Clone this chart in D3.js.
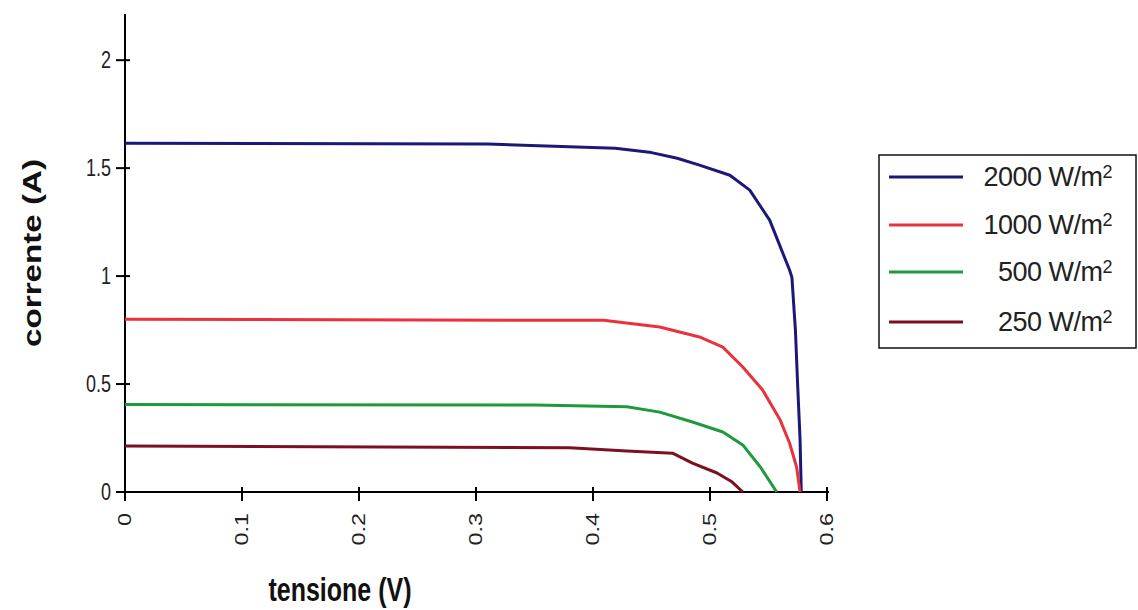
<!DOCTYPE html>
<html>
<head>
<meta charset="utf-8">
<script src="https://cdn.jsdelivr.net/npm/d3@7"></script>
<style>
  body { margin: 0; background: #fff; }
  svg text { font-family: "Liberation Sans", Arial, sans-serif; fill: #111; }
</style>
</head>
<body>
<div id="app"></div>
<script>
// I-V curves for different irradiance levels
const labels = ['2000', '1000', '500', '250'];
const colors = ['#1c1878', '#e8323c', '#1e9a3c', '#7c1020'];

const v2000 = [0, 0.31, 0.419, 0.450, 0.472, 0.491, 0.517, 0.534, 0.551, 0.568, 0.570, 0.573, 0.575, 0.577, 0.578];
const i2000 = [1.615, 1.612, 1.592, 1.572, 1.546, 1.514, 1.467, 1.398, 1.259, 1.028, 0.995, 0.75, 0.486, 0.24, 0];

const v1000 = [0, 0.409, 0.457, 0.491, 0.511, 0.528, 0.545, 0.560, 0.568, 0.574, 0.577];
const i1000 = [0.80, 0.795, 0.764, 0.718, 0.671, 0.579, 0.472, 0.333, 0.227, 0.116, 0];

const v500 = [0, 0.35, 0.429, 0.457, 0.485, 0.511, 0.528, 0.543, 0.557];
const i500 = [0.405, 0.403, 0.395, 0.370, 0.324, 0.278, 0.218, 0.116, 0];

const v250 = [0, 0.38, 0.429, 0.468, 0.485, 0.506, 0.519, 0.528];
const i250 = [0.213, 0.205, 0.190, 0.180, 0.134, 0.088, 0.046, 0];

const xTicks = [0, 0.1, 0.2, 0.3, 0.4, 0.5, 0.6];
const yTicks = [0, 0.5, 1, 1.5, 2];

const series = [
  { v: v2000, i: i2000 },
  { v: v1000, i: i1000 },
  { v: v500, i: i500 },
  { v: v250, i: i250 }
];

const width = 1138;
const height = 610;

const x = d3.scaleLinear().domain([0, 0.6]).range([125, 827]);
const y = d3.scaleLinear().domain([0, 2.2]).range([492, 17]);

const svg = d3.select('#app').append('svg')
  .attr('width', width)
  .attr('height', height);

// axes
svg.append('line')
  .attr('x1', x(0)).attr('x2', x(0.6) + 2)
  .attr('y1', y(0)).attr('y2', y(0))
  .attr('stroke', '#000').attr('stroke-width', 2);
svg.append('line')
  .attr('x1', x(0)).attr('x2', x(0))
  .attr('y1', y(0) + 2).attr('y2', y(2.2) - 3)
  .attr('stroke', '#000').attr('stroke-width', 2);

svg.append('g').selectAll('line')
  .data(xTicks)
  .enter().append('line')
  .attr('x1', d => x(d)).attr('x2', d => x(d))
  .attr('y1', y(0) - 5).attr('y2', y(0) + 9)
  .attr('stroke', '#000').attr('stroke-width', 2);

svg.append('g').selectAll('line')
  .data(yTicks)
  .enter().append('line')
  .attr('x1', x(0) - 9).attr('x2', x(0) + 5)
  .attr('y1', d => y(d)).attr('y2', d => y(d))
  .attr('stroke', '#000').attr('stroke-width', 2);

// tick labels
svg.append('g').selectAll('text')
  .data(yTicks)
  .enter().append('text')
  .attr('transform', d => `translate(111,${y(d) + 8}) scale(1,1.3)`)
  .attr('text-anchor', 'end')
  .style('font-size', '18px')
  .style('fill', '#222')
  .text(d => d);

svg.append('g').selectAll('text')
  .data(xTicks)
  .enter().append('text')
  .attr('transform', d => `translate(${x(d)},513) scale(1,1.3) rotate(-90)`)
  .attr('text-anchor', 'end')
  .attr('dy', '0.36em')
  .style('font-size', '18px')
  .style('fill', '#222')
  .text(d => d);

// axis titles
svg.append('text')
  .attr('transform', 'translate(340,601) scale(1,1.3)')
  .attr('text-anchor', 'middle')
  .style('font-size', '25px')
  .style('font-weight', 'bold')
  .text('tensione (V)');

svg.append('text')
  .attr('transform', 'translate(41,253) scale(1,1.3) rotate(-90)')
  .attr('text-anchor', 'middle')
  .style('font-size', '25.5px')
  .style('font-weight', 'bold')
  .text('corrente (A)');

// curves
const line = d3.line()
  .x(d => x(d[0]))
  .y(d => y(d[1]));

svg.append('g').selectAll('path')
  .data(series)
  .enter().append('path')
  .attr('d', s => line(s.v.map((v, k) => [v, s.i[k]])))
  .attr('fill', 'none')
  .attr('stroke', (_, k) => colors[k])
  .attr('stroke-width', 3)
  .attr('stroke-linejoin', 'round');

// legend
const legend = svg.append('g');
legend.append('rect')
  .attr('x', 879).attr('y', 155)
  .attr('width', 257).attr('height', 193)
  .attr('fill', '#fff')
  .attr('stroke', '#111')
  .attr('stroke-width', 1.5);

const legendY = [177, 225, 272, 322];
const item = legend.selectAll('g')
  .data(labels)
  .enter().append('g')
  .attr('transform', (_, k) => `translate(0,${legendY[k]})`);

item.append('line')
  .attr('x1', 889).attr('x2', 963)
  .attr('y1', 0).attr('y2', 0)
  .attr('stroke', (_, k) => colors[k])
  .attr('stroke-width', 3);

const lt = item.append('text')
  .attr('transform', 'translate(1112,9)')
  .attr('text-anchor', 'end')
  .style('font-size', '27px')
  .style('letter-spacing', '-0.5px')
  .style('fill', '#222');
lt.append('tspan').text(d => `${d} W/m`);
lt.append('tspan')
  .attr('dy', '-0.45em')
  .style('font-size', '18px')
  .text('2');
</script>
</body>
</html>
